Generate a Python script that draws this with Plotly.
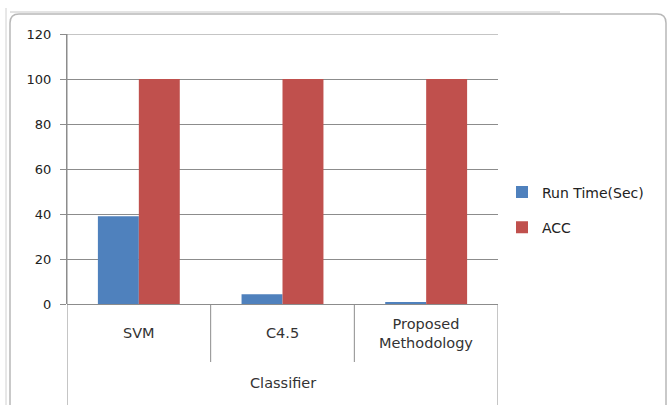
import plotly.graph_objects as go

# Classifier comparison: run time vs. accuracy
classifiers = ["SVM", "C4.5", "Proposed<br>Methodology"]
run_time_sec = [39, 4.3, 0.6]
acc = [100, 100, 100]
y_ticks = [0, 20, 40, 60, 80, 100, 120]
axis_title = "Classifier"

BLUE = "#4F81BD"
RED = "#C0504D"
GRID = "#8C8C8C"
FONT = "DejaVu Sans"

W, H = 669, 405
ML, MR, MT, MB = 67, 171, 34, 101
PW, PH = W - ML - MR, H - MT - MB


def px_x(p):
    return (p - ML) / PW


def px_y(p):
    return (H - MB - p) / PH


idx = list(range(len(classifiers)))

fig = go.Figure()
fig.add_trace(go.Bar(x=idx, y=run_time_sec, name="Run Time(Sec)",
                     marker=dict(color=BLUE, line=dict(width=0)),
                     legendgroup="a"))
fig.add_trace(go.Bar(x=idx, y=acc, name="ACC",
                     marker=dict(color=RED, line=dict(width=0)),
                     legendgroup="b"))

shapes = []
# top gridline at the end of the value range
shapes.append(dict(type="line", xref="paper", yref="y",
                   x0=0, x1=1, y0=y_ticks[-1], y1=y_ticks[-1],
                   line=dict(color=GRID, width=1)))
# separators between category labels
for i in idx[:-1]:
    shapes.append(dict(type="line", xref="x", yref="paper",
                       x0=i + 0.5, x1=i + 0.5, y0=0, y1=px_y(362),
                       line=dict(color=GRID, width=1)))
# outer separators spanning the group label row
for xv in (-0.5, len(classifiers) - 0.5):
    shapes.append(dict(type="line", xref="x", yref="paper",
                       x0=xv, x1=xv, y0=px_y(H + 5), y1=1 if xv < 0 else 0,
                       line=dict(color=GRID, width=1)))

# rounded chart-area border
x0, x1 = px_x(10), px_x(666)
y0, y1 = px_y(H + 10), px_y(14)
rx, ry = 9 / PW, 9 / PH
path = (f"M {x0 + rx},{y1} L {x1 - rx},{y1} Q {x1},{y1} {x1},{y1 - ry} "
        f"L {x1},{y0} L {x0},{y0} L {x0},{y1 - ry} Q {x0},{y1} {x0 + rx},{y1} Z")
shapes.append(dict(type="path", xref="paper", yref="paper", path=path,
                   line=dict(color="#B8B8B8", width=1.5), layer="below"))
# sheet edge lines around the chart object
shapes.append(dict(type="line", xref="paper", yref="paper",
                   x0=px_x(10), x1=px_x(560), y0=px_y(12), y1=px_y(12),
                   line=dict(color="#C8C8C8", width=1)))
shapes.append(dict(type="line", xref="paper", yref="paper",
                   x0=px_x(6), x1=px_x(6), y0=px_y(H), y1=px_y(8),
                   line=dict(color="#D0D0D0", width=1)))

annotations = []
for i, name in enumerate(classifiers):
    annotations.append(dict(x=i, y=px_y(333), xref="x", yref="paper",
                            text=name, showarrow=False, yanchor="middle",
                            font=dict(family=FONT, size=14.5, color="#333333")))
annotations.append(dict(x=(len(classifiers) - 1) / 2, y=px_y(383),
                        xref="x", yref="paper", text=axis_title,
                        showarrow=False, yanchor="middle",
                        font=dict(family=FONT, size=14.5, color="#333333")))

fig.update_layout(
    width=W, height=H,
    margin=dict(l=ML, r=MR, t=MT, b=MB),
    paper_bgcolor="white", plot_bgcolor="white",
    barmode="group", bargap=0.43, bargroupgap=0,
    font=dict(family=FONT, size=12, color="#222222"),
    xaxis=dict(range=[-0.5, len(classifiers) - 0.5], showticklabels=False,
               ticks="", showgrid=False, zeroline=False, fixedrange=True,
               showline=False),
    yaxis=dict(range=[0, 120], tickvals=y_ticks, ticks="outside", ticklen=6,
               tickcolor=GRID, showgrid=True, gridcolor=GRID, gridwidth=1,
               zeroline=True, zerolinecolor=GRID, zerolinewidth=1,
               showline=True, linecolor=GRID, linewidth=1,
               ticklabelstandoff=6,
               tickfont=dict(family=FONT, size=13, color="#222222")),
    legend=dict(x=px_x(502), y=px_y(210), xanchor="left", yanchor="middle",
                traceorder="grouped", tracegroupgap=14,
                font=dict(family=FONT, size=14, color="#222222"),
                bgcolor="rgba(0,0,0,0)"),
    shapes=shapes, annotations=annotations,
)

fig.write_html("out.html")
